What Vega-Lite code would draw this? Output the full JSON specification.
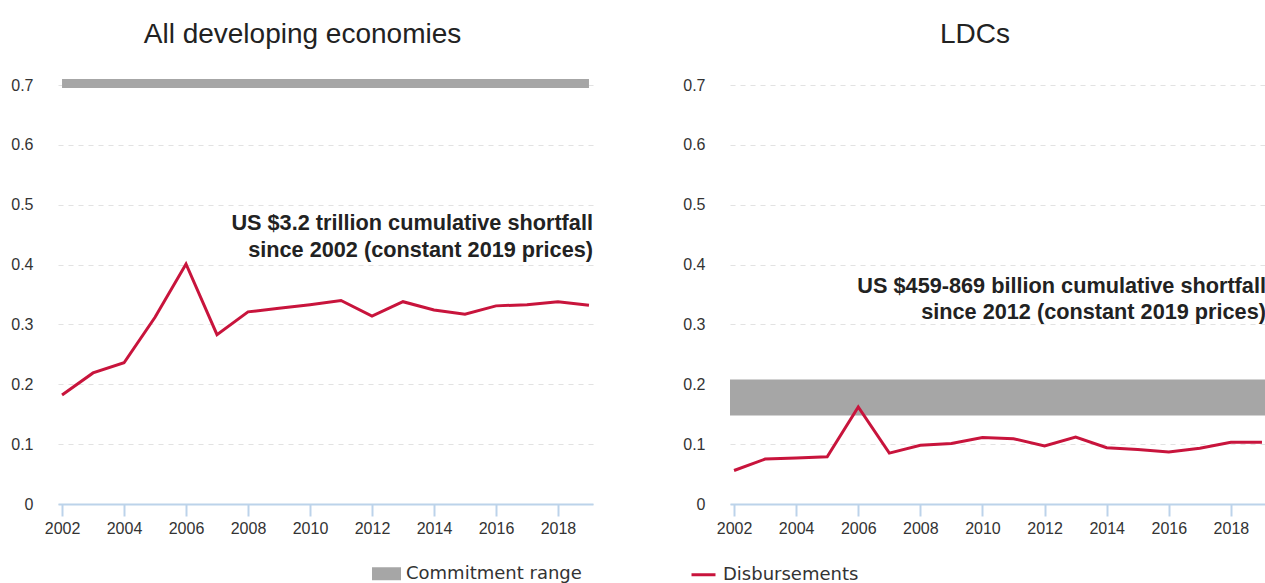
{
  "$schema": "https://vega.github.io/schema/vega-lite/v6.json",
  "padding": {"left": 10, "top": 21, "right": 3, "bottom": 0},
  "background": "white",
  "datasets": {
    "lines": [
      {"panel": "All developing economies", "year": 2002, "value": 0.182, "series": "Disbursements"},
      {"panel": "All developing economies", "year": 2003, "value": 0.219, "series": "Disbursements"},
      {"panel": "All developing economies", "year": 2004, "value": 0.236, "series": "Disbursements"},
      {"panel": "All developing economies", "year": 2005, "value": 0.312, "series": "Disbursements"},
      {"panel": "All developing economies", "year": 2006, "value": 0.401, "series": "Disbursements"},
      {"panel": "All developing economies", "year": 2007, "value": 0.283, "series": "Disbursements"},
      {"panel": "All developing economies", "year": 2008, "value": 0.321, "series": "Disbursements"},
      {"panel": "All developing economies", "year": 2009, "value": 0.327, "series": "Disbursements"},
      {"panel": "All developing economies", "year": 2010, "value": 0.333, "series": "Disbursements"},
      {"panel": "All developing economies", "year": 2011, "value": 0.340, "series": "Disbursements"},
      {"panel": "All developing economies", "year": 2012, "value": 0.314, "series": "Disbursements"},
      {"panel": "All developing economies", "year": 2013, "value": 0.338, "series": "Disbursements"},
      {"panel": "All developing economies", "year": 2014, "value": 0.324, "series": "Disbursements"},
      {"panel": "All developing economies", "year": 2015, "value": 0.317, "series": "Disbursements"},
      {"panel": "All developing economies", "year": 2016, "value": 0.331, "series": "Disbursements"},
      {"panel": "All developing economies", "year": 2017, "value": 0.333, "series": "Disbursements"},
      {"panel": "All developing economies", "year": 2018, "value": 0.338, "series": "Disbursements"},
      {"panel": "All developing economies", "year": 2019, "value": 0.332, "series": "Disbursements"},
      {"panel": "LDCs", "year": 2002, "value": 0.056, "series": "Disbursements"},
      {"panel": "LDCs", "year": 2003, "value": 0.075, "series": "Disbursements"},
      {"panel": "LDCs", "year": 2004, "value": 0.077, "series": "Disbursements"},
      {"panel": "LDCs", "year": 2005, "value": 0.079, "series": "Disbursements"},
      {"panel": "LDCs", "year": 2006, "value": 0.162, "series": "Disbursements"},
      {"panel": "LDCs", "year": 2007, "value": 0.085, "series": "Disbursements"},
      {"panel": "LDCs", "year": 2008, "value": 0.098, "series": "Disbursements"},
      {"panel": "LDCs", "year": 2009, "value": 0.101, "series": "Disbursements"},
      {"panel": "LDCs", "year": 2010, "value": 0.111, "series": "Disbursements"},
      {"panel": "LDCs", "year": 2011, "value": 0.109, "series": "Disbursements"},
      {"panel": "LDCs", "year": 2012, "value": 0.097, "series": "Disbursements"},
      {"panel": "LDCs", "year": 2013, "value": 0.112, "series": "Disbursements"},
      {"panel": "LDCs", "year": 2014, "value": 0.094, "series": "Disbursements"},
      {"panel": "LDCs", "year": 2015, "value": 0.091, "series": "Disbursements"},
      {"panel": "LDCs", "year": 2016, "value": 0.087, "series": "Disbursements"},
      {"panel": "LDCs", "year": 2017, "value": 0.093, "series": "Disbursements"},
      {"panel": "LDCs", "year": 2018, "value": 0.103, "series": "Disbursements"},
      {"panel": "LDCs", "year": 2019, "value": 0.103, "series": "Disbursements"}
    ],
    "bands": [
      {"panel": "All developing economies", "start": 2002, "end": 2019, "low": 0.695, "high": 0.71, "series": "Commitment range"},
      {"panel": "LDCs", "start": 2001.87, "end": 2019.13, "low": 0.148, "high": 0.208, "series": "Commitment range"}
    ],
    "notes": [
      {"panel": "All developing economies", "year": 2019, "value": 0.458, "note": "US $3.2 trillion cumulative shortfall\nsince 2002 (constant 2019 prices)"},
      {"panel": "LDCs", "year": 2019, "value": 0.353, "note": "US $459-869 billion cumulative shortfall\nsince 2012 (constant 2019 prices)"}
    ]
  },
  "hconcat": [
    {
      "title": "All developing economies",
      "width": 535,
      "height": 419,
      "layer": [
        {
          "data": {"name": "bands"},
          "transform": [{"filter": "datum.panel === 'All developing economies'"}],
          "mark": {"type": "rect"},
          "encoding": {
            "x": {"field": "start", "type": "quantitative", "scale": {"domain": [2001.87, 2019.13], "nice": false, "zero": false},
              "axis": {"values": [2002, 2003, 2004, 2005, 2006, 2007, 2008, 2009, 2010, 2011, 2012, 2013, 2014, 2015, 2016, 2017, 2018, 2019]}},
            "x2": {"field": "end"},
            "y": {"field": "low", "type": "quantitative", "scale": {"domain": [0, 0.7], "nice": false},
              "axis": {"values": [0, 0.1, 0.2, 0.3, 0.4, 0.5, 0.6, 0.7], "format": ".1~f"}},
            "y2": {"field": "high"},
            "color": {"field": "series", "type": "nominal", "scale": {"domain": ["Commitment range", "Disbursements"], "range": ["#a6a6a6", "#c8143c"]},
              "legend": {"encode": {"symbols": {"update": {
                "shape": {"signal": "datum.value === 'Disbursements' ? 'stroke' : 'M-1,-0.38H1V0.38H-1Z'"},
                "size": {"signal": "datum.value === 'Disbursements' ? 576 : 676"},
                "fill": {"signal": "datum.value === 'Disbursements' ? 'transparent' : '#a6a6a6'"},
                "stroke": {"signal": "datum.value === 'Disbursements' ? '#c8143c' : 'transparent'"},
                "strokeWidth": {"value": 3}}}}}}
          }
        },
        {
          "data": {"name": "lines"},
          "transform": [{"filter": "datum.panel === 'All developing economies'"}],
          "mark": {"type": "line", "strokeWidth": 3},
          "encoding": {
            "x": {"field": "year", "type": "quantitative"},
            "y": {"field": "value", "type": "quantitative"},
            "color": {"field": "series", "type": "nominal"}
          }
        },
        {
          "data": {"name": "notes"},
          "transform": [{"filter": "datum.panel === 'All developing economies'"}],
          "mark": {"type": "text", "align": "right", "baseline": "alphabetic", "lineBreak": "\n", "lineHeight": 27, "fontSize": 21.7, "fontWeight": "bold", "color": "#222222", "dx": 4},
          "encoding": {
            "x": {"field": "year", "type": "quantitative"},
            "y": {"field": "value", "type": "quantitative"},
            "text": {"field": "note"}
          }
        }
      ]
    },
    {
      "title": "LDCs",
      "width": 536,
      "height": 419,
      "layer": [
        {
          "data": {"name": "bands"},
          "transform": [{"filter": "datum.panel === 'LDCs'"}],
          "mark": {"type": "rect"},
          "encoding": {
            "x": {"field": "start", "type": "quantitative", "scale": {"domain": [2001.87, 2019.13], "nice": false, "zero": false},
              "axis": {"values": [2002, 2003, 2004, 2005, 2006, 2007, 2008, 2009, 2010, 2011, 2012, 2013, 2014, 2015, 2016, 2017, 2018, 2019]}},
            "x2": {"field": "end"},
            "y": {"field": "low", "type": "quantitative", "scale": {"domain": [0, 0.7], "nice": false},
              "axis": {"values": [0, 0.1, 0.2, 0.3, 0.4, 0.5, 0.6, 0.7], "format": ".1~f"}},
            "y2": {"field": "high"},
            "color": {"field": "series", "type": "nominal"}
          }
        },
        {
          "data": {"name": "lines"},
          "transform": [{"filter": "datum.panel === 'LDCs'"}],
          "mark": {"type": "line", "strokeWidth": 3},
          "encoding": {
            "x": {"field": "year", "type": "quantitative"},
            "y": {"field": "value", "type": "quantitative"},
            "color": {"field": "series", "type": "nominal"}
          }
        },
        {
          "data": {"name": "notes"},
          "transform": [{"filter": "datum.panel === 'LDCs'"}],
          "mark": {"type": "text", "align": "right", "baseline": "alphabetic", "lineBreak": "\n", "lineHeight": 26, "fontSize": 21.7, "fontWeight": "bold", "color": "#222222", "dx": 4},
          "encoding": {
            "x": {"field": "year", "type": "quantitative"},
            "y": {"field": "value", "type": "quantitative"},
            "text": {"field": "note"}
          }
        }
      ]
    }
  ],
  "spacing": 87,
  "resolve": {"scale": {"color": "shared"}, "legend": {"color": "shared"}},
  "config": {
    "font": "Liberation Sans",
    "view": {"stroke": null},
    "title": {"fontSize": 28, "fontWeight": "normal", "color": "#222222", "anchor": "middle", "baseline": "alphabetic", "offset": 28, "dx": -23, "font": "Liberation Sans"},
    "axisX": {
      "title": null,
      "labelExpr": "datum.value % 2 === 0 ? format(datum.value, 'd') : ''",
      "grid": false,
      "domainColor": "#bcd3ea",
      "domainWidth": 2,
      "tickColor": "#bcd3ea",
      "tickWidth": 2,
      "tickSize": 12,
      "labelFontSize": 16,
      "labelColor": "#333333",
      "labelPadding": 4,
      "labelFlush": false,
      "labelOverlap": false
    },
    "axisY": {
      "title": null,
      "domain": false,
      "ticks": false,
      "grid": true,
      "gridDash": [5, 5],
      "gridColor": "#e2e2e2",
      "gridWidth": 1.2,
      "labelFontSize": 16,
      "labelColor": "#333333",
      "labelPadding": 25
    },
    "legend": {
      "orient": "none",
      "legendX": 314,
      "legendY": 474,
      "direction": "horizontal",
      "title": null,
      "labelFont": "DejaVu Sans",
      "labelFontSize": 18,
      "labelColor": "#333333",
      "labelLimit": 400,
      "columnPadding": 103,
      "symbolSize": 676,
      "labelOffset": 5
    }
  }
}
